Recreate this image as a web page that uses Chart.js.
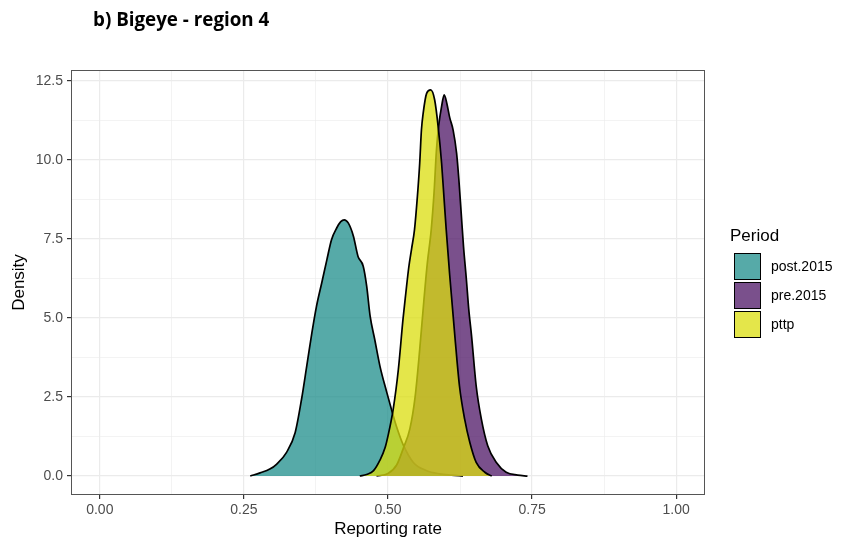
<!DOCTYPE html>
<html><head><meta charset="utf-8">
<script src="https://cdn.jsdelivr.net/npm/chart.js@4.4.1/dist/chart.umd.min.js"></script>
<style>
html,body{margin:0;padding:0;background:#fff;}
#wrap{position:relative;width:842px;height:546px;overflow:hidden;}
#c{position:absolute;left:0;top:0;}
#title{position:absolute;left:93px;top:10px;font:bold 18.8px "Open Sans",Lato,sans-serif;line-height:18px;color:#000;white-space:nowrap;}
.lg{position:absolute;font-family:"Liberation Sans",Arial,sans-serif;color:#000;white-space:nowrap;}
.sw{position:absolute;box-sizing:border-box;width:27px;height:27px;border:1.5px solid #000;}
</style></head>
<body>
<div id="wrap">
<canvas id="c" width="842" height="546"></canvas>
<div id="title">b) Bigeye - region 4</div>
<div id="legend"></div>
</div>
<script>
// ---- data ----
const seriesNames = ['post.2015','pre.2015','pttp'];
const legendTitle = 'Period';

const postX = [0.261,0.278,0.295,0.307,0.324,0.339,0.350,0.359,0.368,0.376,0.385,0.394,0.402,0.411,0.418,0.424,0.431,0.440,0.448,0.457,0.463,0.469,0.477,0.486,0.498,0.506,0.515,0.527,0.544,0.567,0.590,0.610,0.630];
const postY = [0,0.10,0.22,0.38,0.75,1.38,2.43,3.48,4.54,5.38,6.11,6.85,7.48,7.85,8.05,8.11,8.01,7.59,6.95,6.64,6.01,5.06,4.32,3.48,2.64,2.11,1.55,0.96,0.43,0.17,0.07,0.03,0];

const preX = [0.480,0.500,0.515,0.527,0.538,0.547,0.555,0.562,0.568,0.575,0.580,0.584,0.588,0.593,0.5975,0.602,0.607,0.613,0.619,0.623,0.627,0.631,0.636,0.640,0.645,0.653,0.662,0.673,0.688,0.705,0.725,0.742];
const preY = [0,0.08,0.35,0.9,1.5,2.5,4.0,5.5,6.7,7.8,9.0,10.3,11.1,11.7,12.06,11.8,11.35,10.95,10.22,9.37,8.32,7.27,6.22,5.3,4.43,2.85,1.80,0.96,0.43,0.12,0.03,0];

const pttpX = [0.451,0.463,0.475,0.486,0.495,0.500,0.509,0.518,0.526,0.531,0.536,0.541,0.546,0.551,0.555,0.558,0.561,0.567,0.574,0.581,0.587,0.593,0.597,0.601,0.607,0.616,0.624,0.633,0.642,0.653,0.668,0.680];
const pttpY = [0,0.05,0.17,0.50,0.9,1.27,2.11,3.38,4.96,5.8,6.6,7.2,7.8,8.85,9.90,10.95,11.48,12.11,12.22,11.9,11.06,9.90,8.85,7.80,6.37,4.43,2.85,1.80,1.06,0.43,0.12,0];

const xTicks = [0,0.25,0.5,0.75,1];
const xTickLabels = ['0.00','0.25','0.50','0.75','1.00'];
const yTicks = [0,2.5,5,7.5,10,12.5];
const yTickLabels = ['0.0','2.5','5.0','7.5','10.0','12.5'];
const xTitle = 'Reporting rate';
const yTitle = 'Density';

// ---- styles ----
const fills = {
  'post.2015':'rgba(30,142,139,0.75)',
  'pre.2015':'rgba(78,22,102,0.75)',
  'pttp':'rgba(219,222,14,0.75)'
};

function pts(xs, ys){ return xs.map((x,i)=>({x:x, y:ys[i]})); }
function withMinor(arr){
  const out=[];
  for(let i=0;i<arr.length;i++){ out.push(arr[i]); if(i<arr.length-1) out.push((arr[i]+arr[i+1])/2); }
  return out;
}
function isMajor(list, v){ return list.some(t=>Math.abs(t-v)<1e-9); }
function labelFor(list, labels, v){ const i=list.findIndex(t=>Math.abs(t-v)<1e-9); return i<0?'':labels[i]; }

const dsBase = {fill:'origin', borderColor:'#000', borderWidth:1.7, pointRadius:0, cubicInterpolationMode:'monotone'};
const datasets = [
  Object.assign({label:'pttp', data:pts(pttpX,pttpY), backgroundColor:fills['pttp']}, dsBase),
  Object.assign({label:'pre.2015', data:pts(preX,preY), backgroundColor:fills['pre.2015']}, dsBase),
  Object.assign({label:'post.2015', data:pts(postX,postY), backgroundColor:fills['post.2015']}, dsBase)
];

const borderPlugin = {
  id:'panelBorder',
  afterDraw(chart){
    const a=chart.chartArea, c=chart.ctx;
    c.save(); c.strokeStyle='#555'; c.lineWidth=1;
    c.strokeRect(Math.round(a.left)+0.5, Math.round(a.top)+0.5, Math.round(a.right-a.left)-1, Math.round(a.bottom-a.top)-1);
    c.restore();
  }
};

const tickFont = {family:'"Liberation Sans", Arial, sans-serif', size:14};
const titleFont = {family:'"Liberation Sans", Arial, sans-serif', size:17};

new Chart(document.getElementById('c').getContext('2d'), {
  type:'line',
  data:{datasets:datasets},
  options:{
    responsive:false, animation:false, devicePixelRatio:1,
    layout:{padding:{top:70,right:137,left:0,bottom:0}},
    plugins:{legend:{display:false}, tooltip:{enabled:false}},
    scales:{
      x:{
        type:'linear', min:-0.05, max:1.05,
        afterFit(s){ s.height = 51; },
        afterBuildTicks(s){ s.ticks = withMinor(xTicks).map(v=>({value:v})); },
        ticks:{autoSkip:false, maxRotation:0, color:'#4D4D4D', font:tickFont, padding:3,
          callback:(v)=>labelFor(xTicks,xTickLabels,v)},
        grid:{color:'#EBEBEB', lineWidth:(ctx)=> ctx.tick && isMajor(xTicks,ctx.tick.value)?1.2:0.6,
          tickColor:(ctx)=> ctx.tick && isMajor(xTicks,ctx.tick.value)?'#333':'rgba(0,0,0,0)', tickLength:4},
        border:{display:false},
        title:{display:true, text:xTitle, color:'#000', font:titleFont, padding:{top:0,bottom:6}}
      },
      y:{
        type:'linear', min:-0.6, max:12.85,
        afterFit(s){ s.width = 71; },
        afterBuildTicks(s){ s.ticks = withMinor(yTicks).map(v=>({value:v})); },
        ticks:{autoSkip:false, color:'#4D4D4D', font:tickFont, padding:4,
          callback:(v)=>labelFor(yTicks,yTickLabels,v)},
        grid:{color:'#EBEBEB', lineWidth:(ctx)=> ctx.tick && isMajor(yTicks,ctx.tick.value)?1.2:0.6,
          tickColor:(ctx)=> ctx.tick && isMajor(yTicks,ctx.tick.value)?'#333':'rgba(0,0,0,0)', tickLength:4},
        border:{display:false},
        title:{display:true, text:yTitle, color:'#000', font:titleFont, padding:{top:9,bottom:0}}
      }
    }
  },
  plugins:[borderPlugin]
});

// ---- legend (HTML) ----
const lg = document.getElementById('legend');
const t = document.createElement('div');
t.className='lg'; t.textContent=legendTitle;
t.style.cssText='left:730px;top:227px;font-size:17px;line-height:18px;';
lg.appendChild(t);
const swTops=[253,282,311];
seriesNames.forEach((n,i)=>{
  const s=document.createElement('div'); s.className='sw';
  s.style.left='734px'; s.style.top=swTops[i]+'px'; s.style.background=fills[n];
  lg.appendChild(s);
  const l=document.createElement('div'); l.className='lg'; l.textContent=n;
  l.style.cssText='left:771px;top:'+swTops[i]+'px;font-size:14px;line-height:27px;';
  lg.appendChild(l);
});
</script>
</body></html>
